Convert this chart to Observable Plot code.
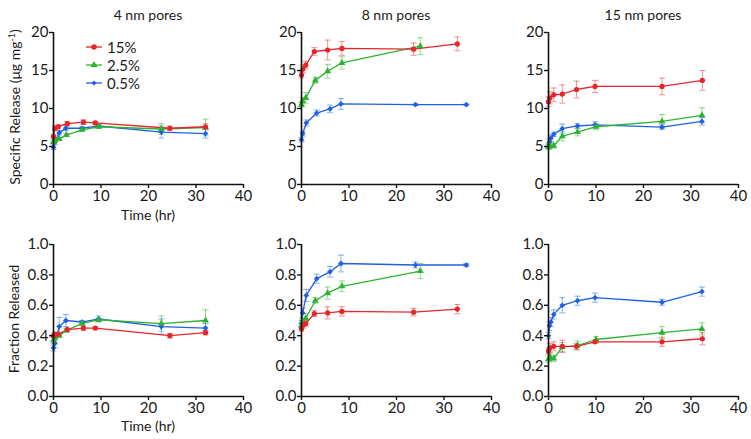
<!DOCTYPE html>
<html>
<head>
<meta charset="utf-8">
<script src="https://cdn.jsdelivr.net/npm/d3@7"></script>
<script src="https://cdn.jsdelivr.net/npm/@observablehq/plot@0.6"></script>
<style>
  html, body { margin: 0; padding: 0; background: #fff; }
  #chart { position: relative; width: 751px; height: 439px; font-family: Lato, "Noto Sans", sans-serif; color: #1a1a1a; }
  .panel { position: absolute; }
  .title, .xlabel { position: absolute; font-size: 14px; transform: translate(-50%, -50%); white-space: nowrap; }
  .ylabel { position: absolute; font-size: 14px; transform: translate(-50%, -50%) rotate(-90deg); white-space: nowrap; }
  .ylabel sup { font-size: 9px; vertical-align: 5px; line-height: 0; }
  #legend { position: absolute; font-size: 15px; }
  #legend .row { display: flex; align-items: center; height: 18px; }
  #legend svg { margin-right: 5px; }
</style>
</head>
<body>
<div id="chart"></div>
<script>
// ---- series / categories ----
const seriesNames = ["15%", "2.5%", "0.5%"];
const seriesColors = ["#e5262b", "#2db32f", "#1f60e6"];
const seriesSymbols = ["circle", "triangle", "diamond2"];
const poreTitles = ["4 nm pores", "8 nm pores", "15 nm pores"];
const xTicks = [0, 10, 20, 30, 40];
const srTicks = [0, 5, 10, 15, 20];
const frTicks = [0, 0.2, 0.4, 0.6, 0.8, 1.0];
const xLabelText = "Time (hr)";
const srLabelText = "Specific Release (μg mg";
const srLabelSup = "-1";
const frLabelText = "Fraction Released";

// ---- 4 nm pores ----
const t4_15  = [0, 0.3, 1, 2.9, 6.3, 8.8, 24.5, 32];
const t4_2   = [0, 0.3, 1.2, 2.7, 6, 9.5, 22.7, 32];
const t4_05  = [0, 0.3, 1.2, 2.6, 6, 9.5, 22.7, 32];
const sr4_15 = [6.3, 7.4, 7.6, 8.0, 8.2, 8.1, 7.4, 7.6];
const sr4_15e = [0.3, 0.3, 0.3, 0.3, 0.3, 0.2, 0.3, 0.4];
const sr4_2  = [5.6, 5.9, 6.0, 6.5, 7.2, 7.6, 7.3, 7.5];
const sr4_2e = [0.2, 0.2, 0.2, 0.2, 0.2, 0.2, 0.7, 1.1];
const sr4_05 = [4.9, 5.6, 6.8, 7.4, 7.4, 7.7, 6.9, 6.7];
const sr4_05e = [0.3, 0.3, 0.3, 0.3, 0.2, 0.2, 0.8, 0.6];
const fr4_15 = [0.40, 0.41, 0.41, 0.44, 0.45, 0.45, 0.40, 0.42];
const fr4_15e = [0.01, 0.01, 0.01, 0.01, 0.015, 0.01, 0.015, 0.015];
const fr4_2  = [0.37, 0.39, 0.40, 0.435, 0.48, 0.505, 0.48, 0.50];
const fr4_2e = [0.02, 0.02, 0.01, 0.01, 0.01, 0.01, 0.05, 0.07];
const fr4_05 = [0.32, 0.35, 0.46, 0.50, 0.49, 0.51, 0.46, 0.45];
const fr4_05e = [0.02, 0.03, 0.06, 0.04, 0.01, 0.02, 0.05, 0.03];

// ---- 8 nm pores ----
const t8_15  = [0, 0.3, 0.9, 2.7, 5.5, 8.5, 23.6, 32.8];
const t8_2   = [0, 0.2, 0.9, 2.9, 5.5, 8.5, 25];
const t8_05  = [0, 0.25, 1, 3.2, 6, 8.3, 24, 34.7];
const sr8_15 = [14.4, 15.2, 15.7, 17.5, 17.7, 17.9, 17.8, 18.5];
const sr8_15e = [0.4, 0.5, 0.5, 0.5, 1.3, 0.9, 0.8, 0.9];
const sr8_2  = [10.5, 11.0, 11.4, 13.7, 14.9, 16.0, 18.2];
const sr8_2e = [0.3, 0.4, 0.7, 0.4, 0.9, 0.8, 1.1];
const sr8_05 = [5.9, 6.7, 8.1, 9.4, 9.95, 10.6, 10.5, 10.5];
const sr8_05e = [0.3, 0.3, 0.4, 0.4, 0.5, 0.7, 0.1, 0.1];
const fr8_15 = [0.445, 0.47, 0.48, 0.545, 0.55, 0.56, 0.555, 0.575];
const fr8_15e = [0.015, 0.02, 0.02, 0.02, 0.04, 0.03, 0.025, 0.03];
const fr8_2  = [0.465, 0.49, 0.515, 0.63, 0.68, 0.725, 0.825];
const fr8_2e = [0.02, 0.02, 0.03, 0.02, 0.04, 0.035, 0.05];
const fr8_05 = [0.48, 0.55, 0.665, 0.775, 0.82, 0.875, 0.865, 0.865];
const fr8_05e = [0.02, 0.03, 0.04, 0.03, 0.035, 0.055, 0.02, 0.01];

// ---- 15 nm pores ----
const t15_15 = [0, 0.3, 1.1, 2.9, 5.9, 9.8, 23.9, 32.4];
const t15_2  = [0, 0.3, 1.1, 2.9, 6.1, 10, 23.9, 32.3];
const t15_05 = [0, 0.2, 0.5, 1.1, 2.9, 6.1, 9.8, 23.9, 32.3];
const sr15_15 = [10.9, 11.4, 11.8, 11.9, 12.5, 12.9, 12.9, 13.7];
const sr15_15e = [0.6, 0.8, 0.9, 1.2, 1.1, 0.8, 1.1, 1.3];
const sr15_2  = [5.0, 5.1, 5.1, 6.35, 6.9, 7.6, 8.3, 9.1];
const sr15_2e = [0.4, 0.4, 0.3, 0.6, 0.5, 0.4, 0.9, 1.0];
const sr15_05 = [5.0, 5.6, 6.1, 6.6, 7.35, 7.7, 7.85, 7.55, 8.3];
const sr15_05e = [0.3, 0.4, 0.4, 0.3, 0.6, 0.3, 0.4, 0.3, 0.5];
const fr15_15 = [0.30, 0.32, 0.33, 0.33, 0.33, 0.36, 0.36, 0.38];
const fr15_15e = [0.02, 0.03, 0.03, 0.04, 0.02, 0.01, 0.03, 0.04];
const fr15_2  = [0.245, 0.26, 0.25, 0.325, 0.335, 0.375, 0.42, 0.445];
const fr15_2e = [0.02, 0.02, 0.02, 0.03, 0.03, 0.02, 0.04, 0.04];
const fr15_05 = [0.40, 0.465, 0.49, 0.54, 0.60, 0.63, 0.65, 0.62, 0.69];
const fr15_05e = [0.02, 0.03, 0.03, 0.03, 0.05, 0.03, 0.03, 0.02, 0.03];

// ---- build tables ----
function rowsOf(ts, vs, es) {
  const out = [];
  // draw order: 0.5%, 2.5%, 15% (red on top)
  [2, 1, 0].forEach(i => {
    ts[i].forEach((t, j) => out.push({series: seriesNames[i], t, v: vs[i][j], e: es[i][j]}));
  });
  return out;
}
const times = [
  [t4_15, t4_2, t4_05],
  [t8_15, t8_2, t8_05],
  [t15_15, t15_2, t15_05]
];
const panels = [
  {row: 0, col: 0, data: rowsOf(times[0], [sr4_15, sr4_2, sr4_05], [sr4_15e, sr4_2e, sr4_05e])},
  {row: 0, col: 1, data: rowsOf(times[1], [sr8_15, sr8_2, sr8_05], [sr8_15e, sr8_2e, sr8_05e])},
  {row: 0, col: 2, data: rowsOf(times[2], [sr15_15, sr15_2, sr15_05], [sr15_15e, sr15_2e, sr15_05e])},
  {row: 1, col: 0, data: rowsOf(times[0], [fr4_15, fr4_2, fr4_05], [fr4_15e, fr4_2e, fr4_05e])},
  {row: 1, col: 1, data: rowsOf(times[1], [fr8_15, fr8_2, fr8_05], [fr8_15e, fr8_2e, fr8_05e])},
  {row: 1, col: 2, data: rowsOf(times[2], [fr15_15, fr15_2, fr15_05], [fr15_15e, fr15_2e, fr15_05e])}
];

// ---- layout ----
const colLeft = [0, 250, 500];
const colWidth = [250, 250, 251];
const colMarginLeft = [53, 51, 48];
const colMarginRight = [7, 9, 13];
const rowTop = [0, 215];
const rowHeight = [215, 224];
const rowMarginTop = [32, 29];
const rowMarginBottom = [31, 43];

const capSymbol = {
  draw(ctx, size) {
    const w = Math.sqrt(size / Math.PI);
    ctx.moveTo(-w, 0);
    ctx.lineTo(w, 0);
  }
};

const chart = document.getElementById("chart");

panels.forEach(p => {
  const isTop = p.row === 0;
  const yTicks = isTop ? srTicks : frTicks;
  const plot = Plot.plot({
    width: colWidth[p.col],
    height: rowHeight[p.row],
    marginLeft: colMarginLeft[p.col],
    marginRight: colMarginRight[p.col],
    marginTop: rowMarginTop[p.row],
    marginBottom: rowMarginBottom[p.row],
    style: {fontFamily: "Lato, 'Noto Sans', sans-serif", fontSize: "15px", color: "#1a1a1a", background: "transparent", overflow: "visible"},
    x: {domain: [0, 40]},
    y: {domain: isTop ? [0, 20] : [0, 1]},
    color: {domain: seriesNames, range: seriesColors},
    symbol: {domain: seriesNames, range: seriesSymbols},
    marks: [
      Plot.ruleX(p.data, {x: "t", y1: d => d.v - d.e, y2: d => d.v + d.e, stroke: "series", strokeOpacity: 0.5, strokeWidth: 1}),
      Plot.dot(p.data, {x: "t", y: d => d.v - d.e, symbol: capSymbol, r: 3, stroke: "series", strokeOpacity: 0.5, strokeWidth: 1}),
      Plot.dot(p.data, {x: "t", y: d => d.v + d.e, symbol: capSymbol, r: 3, stroke: "series", strokeOpacity: 0.5, strokeWidth: 1}),
      Plot.line(p.data, {x: "t", y: "v", z: "series", stroke: "series", strokeWidth: 1.3}),
      Plot.dot(p.data, {x: "t", y: "v", fill: "series", symbol: "series", r: 2.6}),
      Plot.ruleX([0], {stroke: "#111", strokeWidth: 1.6}),
      Plot.ruleY([0], {stroke: "#111", strokeWidth: 1.6}),
      Plot.axisX({
        ticks: xTicks, tickSize: 4, tickPadding: 2, stroke: "#111", strokeWidth: 1.4,
        tickFormat: d3.format("d"), label: null
      }),
      Plot.axisY({
        ticks: yTicks, tickSize: 4, tickPadding: 1, stroke: "#111", strokeWidth: 1.4,
        tickFormat: isTop ? d3.format("d") : d3.format(".1f"), label: null
      })
    ]
  });
  plot.classList.add("panel");
  plot.style.left = colLeft[p.col] + "px";
  plot.style.top = rowTop[p.row] + "px";
  chart.appendChild(plot);
});

// ---- titles and axis labels ----
function addText(cls, html, x, y) {
  const d = document.createElement("div");
  d.className = cls;
  d.innerHTML = html;
  d.style.left = x + "px";
  d.style.top = y + "px";
  chart.appendChild(d);
}
const titleCenters = [148, 396, 643];
poreTitles.forEach((t, i) => addText("title", t, titleCenters[i], 14));
addText("xlabel", xLabelText, 148, 214);
addText("xlabel", xLabelText, 148, 425);
addText("ylabel", `${srLabelText}<sup>${srLabelSup}</sup>)`, 14, 107);
addText("ylabel", frLabelText, 13, 319);

// ---- legend ----
const legend = document.createElement("div");
legend.id = "legend";
legend.style.left = "86px";
legend.style.top = "38px";
const symbolPath = {
  circle: d3.symbol(d3.symbolCircle, 24)(),
  triangle: d3.symbol(d3.symbolTriangle, 22)(),
  diamond2: d3.symbol(d3.symbolDiamond2, 16)()
};
seriesNames.forEach((name, i) => {
  const row = document.createElement("div");
  row.className = "row";
  row.innerHTML = `<svg width="16" height="10"><line x1="0" x2="16" y1="5" y2="5" stroke="${seriesColors[i]}" stroke-width="1.3"/><path transform="translate(8,5)" d="${symbolPath[seriesSymbols[i]]}" fill="${seriesColors[i]}"/></svg><span>${name}</span>`;
  legend.appendChild(row);
});
chart.appendChild(legend);
</script>
</body>
</html>
